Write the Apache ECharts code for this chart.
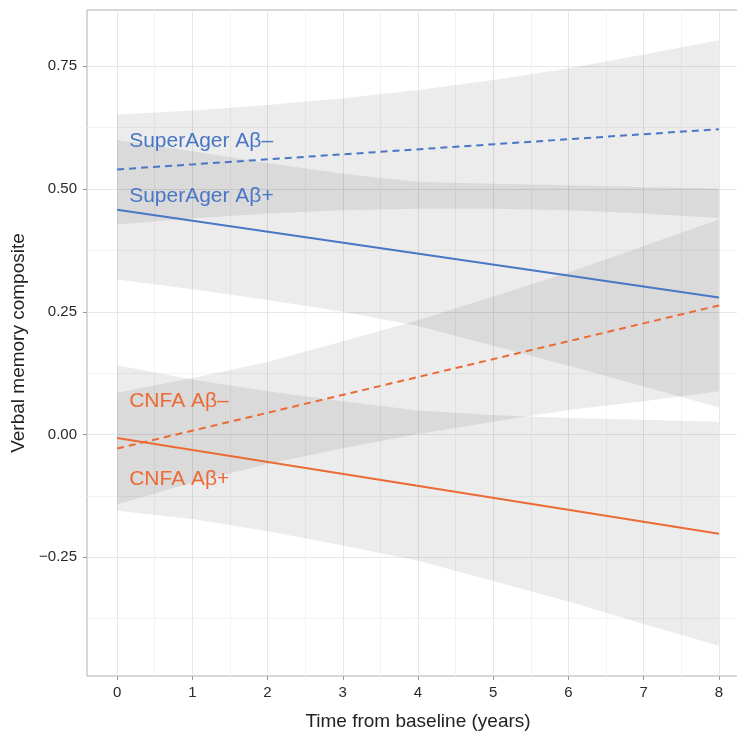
<!DOCTYPE html>
<html>
<head>
<meta charset="utf-8">
<script src="https://cdn.jsdelivr.net/npm/echarts@6/dist/echarts.min.js"></script>
<style>
  html, body { margin: 0; padding: 0; background: #fff; }
  #chart { width: 737px; height: 732px; }
</style>
</head>
<body>
<div id="chart"></div>
<script>
// band sample points (years) and fitted line end points
const years = [0, 1, 2, 3, 4, 5, 6, 7, 8];
const lineYears = [0, 8];

// fitted lines
const saNegMean = [0.540, 0.622];
const saPosMean = [0.458, 0.279];
const cnNegMean = [-0.0285, 0.263];
const cnPosMean = [-0.007, -0.202];

// confidence bands
const saNegLo = [0.428, 0.440, 0.450, 0.457, 0.460, 0.460, 0.457, 0.450, 0.441];
const saNegHi = [0.652, 0.660, 0.671, 0.685, 0.702, 0.722, 0.746, 0.774, 0.803];
const saPosLo = [0.316, 0.296, 0.274, 0.250, 0.221, 0.181, 0.140, 0.098, 0.055];
const saPosHi = [0.600, 0.577, 0.553, 0.531, 0.515, 0.511, 0.508, 0.504, 0.501];
const cnNegLo = [-0.142, -0.098, -0.060, -0.028, 0.001, 0.026, 0.050, 0.068, 0.088];
const cnNegHi = [0.085, 0.115, 0.148, 0.190, 0.233, 0.281, 0.330, 0.384, 0.438];
const cnPosLo = [-0.155, -0.172, -0.197, -0.226, -0.257, -0.298, -0.340, -0.386, -0.430];
const cnPosHi = [0.141, 0.112, 0.088, 0.068, 0.049, 0.040, 0.034, 0.030, 0.026];

// group labels
const labelText = ['SuperAger Aβ–', 'SuperAger Aβ+', 'CNFA Aβ–', 'CNFA Aβ+'];
const labelX = [0.16, 0.16, 0.16, 0.16];
const labelY = [0.598, 0.486, 0.067, -0.090];

// axis ticks
const xTicks = [0, 1, 2, 3, 4, 5, 6, 7, 8];
const xMinor = [0.5, 1.5, 2.5, 3.5, 4.5, 5.5, 6.5, 7.5];
const yTicks = [-0.25, 0, 0.25, 0.5, 0.75];
const yMinor = [-0.375, -0.125, 0.125, 0.375, 0.625];

const BLUE = '#4a76c6';
const ORANGE = '#ec6a35';
const FONT = 'Liberation Sans, Arial, sans-serif';
const labelColors = [BLUE, BLUE, ORANGE, ORANGE];

const bands = [
  [saNegLo, saNegHi],
  [saPosLo, saPosHi],
  [cnNegLo, cnNegHi],
  [cnPosLo, cnPosHi]
];

function fit(data, color, dashed) {
  return {
    type: 'line', z: 3, symbol: 'none', silent: true,
    data: lineYears.map((x, i) => [x, data[i]]),
    lineStyle: { color: color, width: 2, type: dashed ? [7, 5] : 'solid' }
  };
}

const fmt = v => (v < 0 ? '\u2212' : '') + Math.abs(v).toFixed(2);

let chart = echarts.init(document.getElementById('chart'));
chart.setOption({
  animation: false,
  backgroundColor: '#fff',
  textStyle: { fontFamily: FONT },
  grid: {
    left: 87, top: 10, right: -12, bottom: 56,
    outerBoundsMode: 'none',
    show: true, borderColor: '#b0b0b0', borderWidth: 1
  },
  xAxis: [
    {
      type: 'value', min: -0.4, max: 8.4,
      name: 'Time from baseline (years)', nameLocation: 'middle', nameGap: 36,
      nameTextStyle: { fontSize: 19, color: '#222', fontFamily: FONT },
      axisLine: { show: false, onZero: false },
      axisTick: { show: true, length: 4, customValues: xTicks, lineStyle: { color: '#999' } },
      axisLabel: { customValues: xTicks, fontSize: 15, color: '#2a2a2a', margin: 9, fontFamily: FONT },
      splitLine: { show: true, lineStyle: { color: '#e7e7e7', width: 1 } }
    },
    {
      type: 'value', min: -0.4, max: 8.4, position: 'bottom',
      axisLine: { show: false, onZero: false },
      axisTick: { show: false, customValues: xMinor },
      axisLabel: { show: false },
      splitLine: { show: true, lineStyle: { color: '#f3f3f3', width: 1 } }
    }
  ],
  yAxis: [
    {
      type: 'value', min: -0.4917, max: 0.8647,
      name: 'Verbal memory composite', nameLocation: 'middle', nameGap: 56,
      nameTextStyle: { fontSize: 19, color: '#222', fontFamily: FONT },
      axisLine: { show: false, onZero: false },
      axisTick: { show: true, length: 4, customValues: yTicks, lineStyle: { color: '#999' } },
      axisLabel: { customValues: yTicks, formatter: fmt, fontSize: 15, color: '#2a2a2a', margin: 10, fontFamily: FONT },
      splitLine: { show: true, lineStyle: { color: '#e7e7e7', width: 1 } }
    },
    {
      type: 'value', min: -0.4917, max: 0.8647, position: 'left',
      axisLine: { show: false, onZero: false },
      axisTick: { show: false, customValues: yMinor },
      axisLabel: { show: false },
      splitLine: { show: true, lineStyle: { color: '#f3f3f3', width: 1 } }
    }
  ],
  series: [
    {
      // confidence ribbons, drawn as polygons through the axis scales
      type: 'custom', z: 1, silent: true,
      data: bands.map((b, i) => [i]),
      renderItem: (params, api) => {
        const [lo, hi] = bands[params.dataIndex];
        const top = years.map((x, k) => api.coord([x, hi[k]]));
        const bottom = years.map((x, k) => api.coord([x, lo[k]])).reverse();
        return {
          type: 'polygon',
          shape: { points: top.concat(bottom) },
          style: { fill: 'rgba(0,0,0,0.075)' }
        };
      }
    },
    fit(saNegMean, BLUE, true),
    fit(saPosMean, BLUE, false),
    fit(cnNegMean, ORANGE, true),
    fit(cnPosMean, ORANGE, false),
    {
      type: 'scatter', z: 4, symbolSize: 0, silent: true,
      itemStyle: { opacity: 1 },
      data: labelText.map((t, i) => ({
        value: [labelX[i], labelY[i]],
        name: t,
        label: { color: labelColors[i] }
      })),
      label: {
        show: true, position: 'right', distance: 0, opacity: 1,
        formatter: p => p.name, fontSize: 21, fontFamily: FONT
      }
    }
  ]
});
</script>
</body>
</html>
